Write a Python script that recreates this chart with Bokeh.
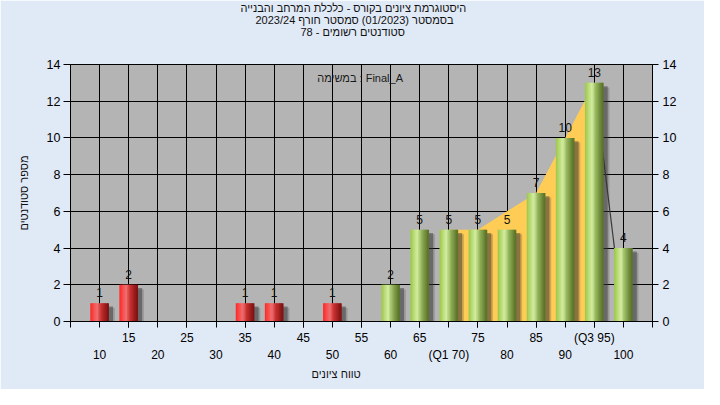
import numpy as np
from bokeh.plotting import figure
from bokeh.models import Range1d, FixedTicker, LinearAxis, Title, ColumnDataSource
from bokeh.embed import file_html
from bokeh.resources import INLINE
from bokeh.core.properties import value

# ---------------- data ----------------
grades = [10, 15, 20, 25, 30, 35, 40, 45, 50, 55, 60, 65, 70, 75, 80, 85, 90, 95, 100]
counts = [1, 2, 0, 0, 0, 1, 1, 0, 1, 0, 2, 5, 5, 5, 5, 7, 10, 13, 4]
tick_labels = ["10", "15", "20", "25", "30", "35", "40", "45", "50", "55", "60", "65",
               "(Q1 70)", "75", "80", "85", "90", "(Q3 95)", "100"]
pass_grade = 60
iqr_x = [70, 75, 80, 85, 90, 95]
iqr_y = [5, 5, 6, 7, 10, 13]
tail_x = [95, 100]
tail_y = [13, 0]
y_ticks = [0, 2, 4, 6, 8, 10, 12, 14]
grid_x = [5, 10, 15, 20, 25, 30, 35, 40, 45, 50, 55, 60, 65, 70, 75, 80, 85, 90, 95, 100, 105]
title_lines = ["היסטוגרמת ציונים בקורס - כלכלת המרחב והבנייה",
               "בסמסטר  (01/2023)  סמסטר חורף 2023/24",
               "סטודנטים רשומים - 78"]
task_text = "במשימה : Final_A"
y_title = "מספר סטודנטים"
x_title = "טווח ציונים"

FONT = "Liberation Sans"

# ---------------- helpers ----------------
def hex2rgb(h):
    return tuple(int(h[i:i + 2], 16) for i in (1, 3, 5))

def shade(stops, t):
    for (t0, c0), (t1, c1) in zip(stops, stops[1:]):
        if t <= t1:
            f = (t - t0) / (t1 - t0)
            a, b = hex2rgb(c0), hex2rgb(c1)
            return "#%02x%02x%02x" % tuple(round(x + (y - x) * f) for x, y in zip(a, b))
    return stops[-1][1]

RED = [(0.0, "#ff2626"), (0.38, "#f07070"), (0.6, "#c83030"), (1.0, "#7c1010")]
GREEN = [(0.0, "#9cc648"), (0.38, "#d4eea2"), (0.62, "#94b45a"), (1.0, "#566e26")]

def make_title(text, offset, standoff, align="left", valign="bottom"):
    try:
        return Title(text=text, align=align, offset=offset, standoff=standoff,
                     vertical_align=valign, text_font=FONT, text_font_size="11px",
                     text_font_style="normal", text_color="#111111")
    except Exception:
        return Title(text=text, align=align, offset=offset, standoff=0,
                     vertical_align=valign, text_font=FONT, text_font_size="11px",
                     text_font_style="normal", text_color="#111111")

# ---------------- figure ----------------
p = figure(width=704, height=389, x_range=Range1d(5, 105), y_range=Range1d(0, 14),
           output_backend="svg", toolbar_location=None,
           min_border_left=70, min_border_right=52, min_border_top=64, min_border_bottom=68,
           background_fill_color="#b4b4b4", border_fill_color="#e0e9f6",
           outline_line_color="black", outline_line_width=1)

# grid
p.xgrid.ticker = FixedTicker(ticks=grid_x)
p.ygrid.ticker = FixedTicker(ticks=y_ticks)
for g in (p.xgrid[0], p.ygrid[0]):
    g.grid_line_color = "black"
    g.grid_line_alpha = 1.0
    g.grid_line_width = 1

def style_axis(ax, size="12px"):
    ax.axis_line_color = "black"
    ax.major_tick_line_color = "black"
    ax.minor_tick_line_color = "black"
    ax.major_tick_in = 0
    ax.minor_tick_in = 0
    ax.major_label_text_font = FONT
    ax.major_label_text_font_size = size
    ax.major_label_text_color = "black"
    ax.axis_label_text_font = FONT
    ax.axis_label_text_font_style = "normal"
    ax.axis_label_text_font_size = "11px"
    ax.axis_label_text_color = "#111111"

# bottom axis row 1 (odd positions) with tick marks at every grid line
odd_idx = [i for i in range(len(grades)) if i % 2 == 1]
even_idx = [i for i in range(len(grades)) if i % 2 == 0]
xa = p.xaxis[0]
xa.ticker = FixedTicker(ticks=[grades[i] for i in odd_idx], minor_ticks=grid_x)
xa.major_label_overrides = {grades[i]: tick_labels[i] for i in odd_idx}
style_axis(xa)
xa.major_tick_out = 6
xa.minor_tick_out = 6
xa.major_label_standoff = 3

# bottom axis row 2 (even positions)
xa2 = LinearAxis(ticker=FixedTicker(ticks=[grades[i] for i in even_idx], minor_ticks=[]),
                 major_label_overrides={grades[i]: tick_labels[i] for i in even_idx})
style_axis(xa2)
xa2.axis_line_color = None
xa2.major_tick_line_color = None
xa2.major_tick_out = 0
xa2.major_label_standoff = 0
p.add_layout(xa2, "below")

# x-axis title
p.add_layout(make_title(x_title, 241, 6, valign="top"), "below")

# left axis
ya = p.yaxis[0]
ya.ticker = FixedTicker(ticks=y_ticks, minor_ticks=[])
style_axis(ya, "12.5px")
ya.major_tick_out = 7
ya.major_label_standoff = 3
ya.axis_label = y_title
ya.axis_label_standoff = 14

# right axis
ya2 = LinearAxis(ticker=FixedTicker(ticks=y_ticks, minor_ticks=[]))
style_axis(ya2, "12.5px")
ya2.major_tick_out = 6
ya2.major_label_standoff = 4
p.add_layout(ya2, "right")

# titles: spacer next to the frame, then lines 3, 2, 1 stacked upwards
p.add_layout(make_title(" ", 0, 14), "above")
for line, off in zip(reversed(title_lines), [230, 185, 170]):
    p.add_layout(make_title(line, off, -2), "above")

# interquartile area and tail line
p.varea(x=iqr_x, y1=[0] * len(iqr_x), y2=iqr_y, fill_color="#ffcc55", fill_alpha=1.0)
p.line(x=tail_x, y=tail_y, line_color="#3a3a3a", line_width=1.2)

# bars (shadow + cylinder-like gradient strips)
BAR_W = 3.1
N = 14
nz = [(g, c) for g, c in zip(grades, counts) if c > 0]
p.vbar(x=[g + 1.05 for g, c in nz], top=[c - 0.25 for g, c in nz], bottom=0, width=BAR_W,
       fill_color="#303030", fill_alpha=0.22, line_color=None)
p.vbar(x=[g + 0.75 for g, c in nz], top=[c - 0.18 for g, c in nz], bottom=0, width=BAR_W,
       fill_color="#303030", fill_alpha=0.45, line_color=None)

xs, tops, cols = [], [], []
for g, c in nz:
    stops = RED if g < pass_grade else GREEN
    for k in range(N):
        t = (k + 0.5) / N
        xs.append(g - BAR_W / 2 + t * BAR_W)
        tops.append(c)
        cols.append(shade(stops, t))
src = ColumnDataSource(dict(x=xs, top=tops, color=cols))
p.vbar(x="x", top="top", bottom=0, width=BAR_W / N * 1.5, fill_color="color",
       line_color=None, source=src)

# value labels
p.text(x=[g for g, c in nz], y=[c + 0.57 for g, c in nz], text=[str(c) for g, c in nz],
       text_align="center", text_baseline="middle",
       text_font=value(FONT), text_font_size="12px", text_color="#111111")

# task label inside plot
p.text(x=[47.4], y=[13.24], text=[task_text], text_align="left", text_baseline="middle",
       text_font=value(FONT), text_font_size="11px", text_color="#1a1a1a")

open("out.html", "w").write(file_html(p, INLINE))
